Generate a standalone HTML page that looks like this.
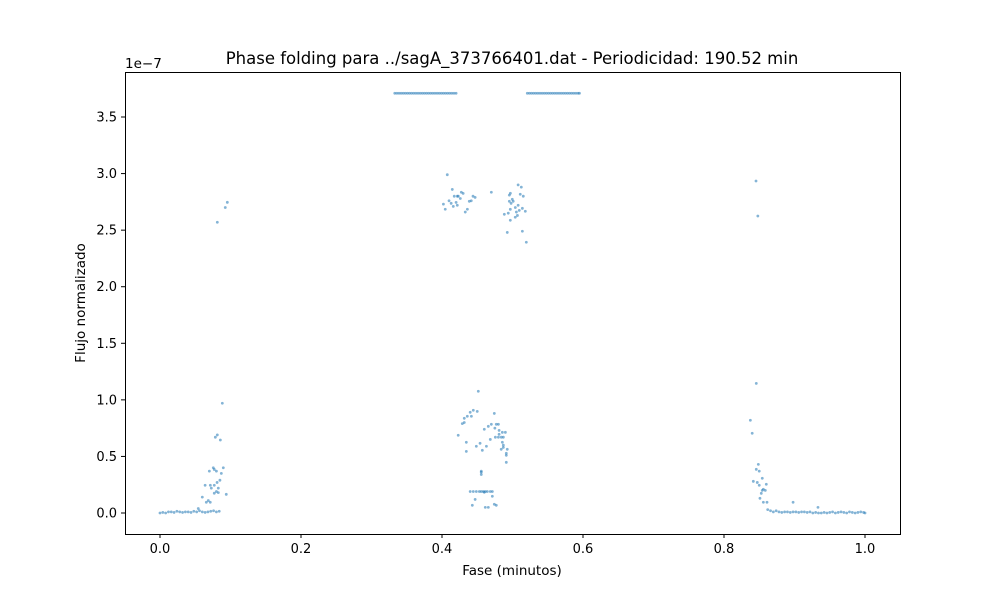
<!DOCTYPE html>
<html><head><meta charset="utf-8"><style>
body{margin:0;background:#fff;font-family:"Liberation Sans","DejaVu Sans",sans-serif}
svg{display:block}
text{font-family:"DejaVu Sans","Liberation Sans",sans-serif;fill:#000}
</style></head><body>
<svg id="chart" width="1000" height="600" viewBox="0 0 1000 600" xmlns="http://www.w3.org/2000/svg">
<rect x="0" y="0" width="1000" height="600" fill="#fff"/>
<text x="512" y="64" font-size="16.5" text-anchor="middle">Phase folding para ../sagA_373766401.dat - Periodicidad: 190.52 min</text>
<text x="125" y="68" font-size="13.5">1e−7</text>
<text x="512" y="575" font-size="13.5" text-anchor="middle">Fase (minutos)</text>
<text x="85" y="303" font-size="13.5" text-anchor="middle" transform="rotate(-90 85 303)">Flujo normalizado</text>
<g id="ticks"></g>
<g id="points"></g>
<rect x="125.5" y="72.5" width="775" height="462" fill="none" stroke="#000" stroke-width="1"/>
</svg>
<script>
const xTicks=[0,0.2,0.4,0.6,0.8,1.0];
const xTickLabels=["0.0","0.2","0.4","0.6","0.8","1.0"];
const yTicks=[0,0.5,1.0,1.5,2.0,2.5,3.0,3.5];
const yTickLabels=["0.0","0.5","1.0","1.5","2.0","2.5","3.0","3.5"];
// scattered points: phase and flux (units of 1e-7)
const phases=[.0955,.0926,.0813,.0884,.0813,.0785,.0856,.0756,.0898,.077,.070,.080,.087,.085,.081,.064,.0714,.077,.0827,.0728,.080,.0827,.077,.094,.060,.0685,.0657,.0713,.0543,
.4075,.4146,.4274,.430,.4174,.4217,.4231,.426,.444,.447,.410,.4415,.4387,.413,.420,.402,.4217,.416,.4046,.436,.433,.470,
.508,.5125,.497,.4955,.511,.5153,.4997,.501,.4955,.498,.508,.504,.514,.4969,.5096,.5182,.5055,.494,.4884,.507,.5039,.4969,.4926,.514,.5196,
.4515,.4444,.440,.450,.4742,.4359,.4417,.4316,.4316,.4288,.470,.477,.480,.4657,.475,.46,.481,.4856,.4899,.481,.423,.4757,.48,.4841,.487,.4685,.4856,.4345,.454,.487,.4487,.463,.487,.4926,.484,.4572,.4345,.4912,.4912,.4912,.4557,.4557,.4557,
.440,.4444,.4487,.453,.4557,.4586,.4614,.4643,.4685,.4714,.46,.4714,.447,.443,.4742,.477,.4614,.4657,
.8454,.848,.8458,.8374,.840,.8487,.8458,.850,.8543,.8416,.8472,.860,.850,.8558,.8586,.8543,.8529,.851,.8558,.861,.898,.9333];
const fluxes=[2.746,2.70,2.57,0.97,0.69,0.67,0.645,0.40,0.40,0.385,0.37,0.37,0.35,0.29,0.27,0.245,0.245,0.245,0.22,0.22,0.19,0.18,0.175,0.165,0.14,0.11,0.095,0.095,0.04,
2.99,2.86,2.835,2.825,2.80,2.80,2.80,2.78,2.80,2.79,2.76,2.76,2.755,2.737,2.745,2.73,2.72,2.71,2.685,2.685,2.66,2.835,
2.90,2.88,2.826,2.81,2.817,2.80,2.773,2.755,2.755,2.737,2.72,2.70,2.693,2.684,2.675,2.667,2.66,2.65,2.64,2.63,2.614,2.587,2.48,2.49,2.393,
1.076,0.908,0.89,0.898,0.88,0.855,0.855,0.837,0.80,0.79,0.784,0.784,0.784,0.766,0.75,0.74,0.73,0.713,0.713,0.696,0.687,0.67,0.67,0.67,0.67,0.65,0.625,0.625,0.616,0.60,0.59,0.59,0.58,0.563,0.563,0.554,0.545,0.528,0.51,0.448,0.36,0.37,0.34,
0.19,0.19,0.19,0.19,0.19,0.19,0.19,0.19,0.19,0.19,0.183,0.148,0.12,0.068,0.077,0.068,0.05,0.05,
2.934,2.625,1.146,0.82,0.705,0.43,0.386,0.37,0.307,0.28,0.27,0.254,0.245,0.21,0.20,0.20,0.174,0.13,0.095,0.095,0.095,0.05];
// dense baseline / saturated bands
const bandPhases=[0,.004,.008,.012,.016,.02,.024,.028,.032,.036,.04,.044,.048,.052,.056,.06,.064,.068,.072,.076,.08,.084,
.862,.866,.87,.874,.878,.882,.886,.89,.894,.898,.902,.906,.91,.914,.918,.922,.926,.93,.934,.938,.942,.946,.95,.954,.958,.962,.966,.97,.974,.978,.982,.986,.99,.994,.998,1.0,
.333,.336,.339,.342,.345,.348,.351,.354,.357,.36,.363,.366,.369,.372,.375,.378,.381,.384,.387,.39,.393,.396,.399,.402,.405,.408,.411,.414,.417,.42,
.521,.524,.527,.53,.533,.536,.539,.542,.545,.548,.551,.554,.557,.56,.563,.566,.569,.572,.575,.578,.581,.584,.587,.59,.593,.595];
const bandFluxes=[0,.005,0,.01,.01,.005,.015,.01,.005,.01,.01,.005,.015,.01,.02,.01,.005,.01,.015,.02,.01,.015,
.03,.02,.01,.02,.01,.005,.01,.01,.005,.01,.01,.005,.01,.01,.005,.01,0,.005,0,0,.005,0,.005,.01,0,.005,.01,.005,0,.01,.005,0,.005,.01,.005,0,
3.71,3.71,3.71,3.71,3.71,3.71,3.71,3.71,3.71,3.71,3.71,3.71,3.71,3.71,3.71,3.71,3.71,3.71,3.71,3.71,3.71,3.71,3.71,3.71,3.71,3.71,3.71,3.71,3.71,3.71,
3.71,3.71,3.71,3.71,3.71,3.71,3.71,3.71,3.71,3.71,3.71,3.71,3.71,3.71,3.71,3.71,3.71,3.71,3.71,3.71,3.71,3.71,3.71,3.71,3.71,3.71];

const NS="http://www.w3.org/2000/svg";
function xs(v){return 160+v*705;}
function ys(v){return 513-v*113.14;}
const tg=document.getElementById('ticks');
xTicks.forEach((t,i)=>{
  const l=document.createElementNS(NS,'line');
  l.setAttribute('x1',xs(t));l.setAttribute('x2',xs(t));l.setAttribute('y1',534);l.setAttribute('y2',538);l.setAttribute('stroke','#000');
  
  
  tg.appendChild(l);
  const tx=document.createElementNS(NS,'text');
  tx.setAttribute('x',xs(t));tx.setAttribute('y',553);tx.setAttribute('font-size','13');tx.setAttribute('text-anchor','middle');
  tx.textContent=xTickLabels[i];
  
  
  tg.appendChild(tx);
});
yTicks.forEach((t,i)=>{
  const l=document.createElementNS(NS,'line');
  l.setAttribute('x1',121);l.setAttribute('x2',125);l.setAttribute('y1',ys(t));l.setAttribute('y2',ys(t));l.setAttribute('stroke','#000');
  
  
  tg.appendChild(l);
  const tx=document.createElementNS(NS,'text');
  tx.setAttribute('x',117);tx.setAttribute('y',ys(t)+4.5);tx.setAttribute('font-size','13');tx.setAttribute('text-anchor','end');
  tx.textContent=yTickLabels[i];
  
  
  tg.appendChild(tx);
});
const pg=document.getElementById('points');
function dot(p,f){
  const c=document.createElementNS(NS,'circle');
  c.setAttribute('cx',xs(p));c.setAttribute('cy',ys(f));c.setAttribute('r',1.4);
  c.setAttribute('fill','rgba(31,119,180,0.55)');
  
  
  pg.appendChild(c);
}
bandPhases.forEach((p,i)=>dot(p,bandFluxes[i]));
phases.forEach((p,i)=>dot(p,fluxes[i]));
</script>
</body></html>
